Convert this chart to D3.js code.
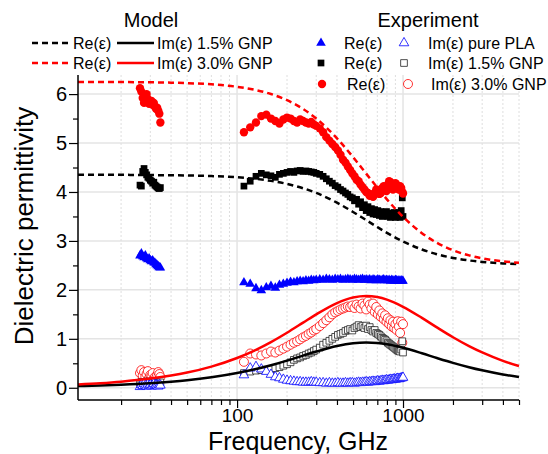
<!DOCTYPE html>
<html lang="en">
<head>
<meta charset="UTF-8">
<title>Dielectric permittivity</title>
<script src="https://cdn.jsdelivr.net/npm/d3@7"></script>
<style>
  body { margin: 0; background: #fff; }
  text { font-family: "Liberation Sans", Arial, sans-serif; fill: #000; }
</style>
</head>
<body>
<script>

// Model curves
const freqModel = [11, 15, 20, 30, 40, 50, 70, 100, 130, 160, 200, 250, 300, 400, 500, 600, 700, 800, 1000, 1300, 1600, 2000, 2500, 3000, 4000, 5000];
const reModel15 = [4.35, 4.35, 4.35, 4.345, 4.342, 4.337, 4.325, 4.30, 4.267, 4.227, 4.165, 4.076, 3.98, 3.781, 3.592, 3.425, 3.284, 3.166, 2.99, 2.825, 2.728, 2.653, 2.601, 2.571, 2.541, 2.526];
const imModel15 = [0.034, 0.046, 0.062, 0.092, 0.123, 0.153, 0.213, 0.30, 0.383, 0.461, 0.555, 0.657, 0.74, 0.854, 0.91, 0.925, 0.914, 0.888, 0.816, 0.704, 0.608, 0.509, 0.42, 0.356, 0.271, 0.219];
const reModel30 = [6.249, 6.248, 6.246, 6.241, 6.233, 6.224, 6.20, 6.149, 6.082, 6.001, 5.875, 5.695, 5.50, 5.096, 4.713, 4.375, 4.088, 3.85, 3.493, 3.159, 2.962, 2.81, 2.704, 2.644, 2.583, 2.553];
const imModel30 = [0.069, 0.094, 0.125, 0.187, 0.249, 0.31, 0.432, 0.608, 0.776, 0.934, 1.125, 1.331, 1.50, 1.731, 1.844, 1.875, 1.853, 1.80, 1.654, 1.427, 1.233, 1.032, 0.851, 0.721, 0.55, 0.444];

// Experiment, Ka band
const freqKa = [26, 26.5, 27, 27.5, 28, 28.5, 29, 29.5, 30, 30.5, 31, 31.5, 32, 32.5, 33, 33.5, 34, 34.5];
const reKaPLA = [2.70, 2.74, 2.68, 2.66, 2.70, 2.64, 2.62, 2.64, 2.60, 2.58, 2.60, 2.56, 2.55, 2.52, 2.50, 2.48, 2.46, 2.45];
const imKaPLA = [0.02, 0.06, 0.04, 0.08, 0.05, 0.03, 0.07, 0.04, 0.06, 0.03, 0.05, 0.08, 0.04, 0.06, 0.05, 0.03, 0.06, 0.05];
const reKa15 = [4.14, 4.12, 4.42, 4.48, 4.40, 4.35, 4.30, 4.28, 4.24, 4.22, 4.18, 4.20, 4.14, 4.12, 4.10, 4.08, 4.07, 4.09];
const imKa15 = [0.10, 0.12, 0.08, 0.11, 0.09, 0.13, 0.10, 0.08, 0.12, 0.11, 0.09, 0.10, 0.12, 0.08, 0.11, 0.10, 0.09, 0.11];
const reKa30 = [6.12, 6.05, 5.92, 5.82, 5.88, 6.00, 5.90, 5.80, 5.84, 5.86, 5.78, 5.82, 5.74, 5.70, 5.72, 5.66, 5.60, 5.42];
const imKa30 = [0.30, 0.36, 0.25, 0.32, 0.22, 0.28, 0.34, 0.20, 0.26, 0.24, 0.30, 0.18, 0.22, 0.20, 0.26, 0.32, 0.28, 0.22];

// Experiment, THz band
const freqTHz = [110, 120, 130, 140, 150, 160, 170, 180, 190, 200, 210, 220, 230, 240, 250, 260, 270, 280, 290, 300,
  315, 330, 345, 360, 375, 390, 405, 420, 435, 450, 465, 480, 495, 510, 525, 540, 555, 570, 585, 600,
  615, 630, 645, 660, 675, 690, 705, 720, 735, 750, 765, 780, 795, 810, 825, 840, 855, 870, 885, 900,
  915, 930, 945, 960, 975, 990, 1000];
const reTHz30 = [5.22, 5.32, 5.42, 5.55, 5.58, 5.50, 5.45, 5.40, 5.48, 5.52, 5.50, 5.45, 5.42, 5.48, 5.45, 5.42, 5.40, 5.43, 5.38, 5.35,
  5.30, 5.22, 5.12, 5.05, 4.98, 4.92, 4.85, 4.76, 4.66, 4.60, 4.52, 4.45, 4.38, 4.32, 4.25, 4.22, 4.15, 4.10, 4.05, 4.00,
  3.98, 3.92, 3.95, 3.90, 3.98, 4.05, 4.02, 3.96, 3.98, 4.08, 4.12, 4.05, 4.02, 4.15, 4.22, 4.20, 4.10, 4.05, 4.12, 4.18,
  4.15, 4.10, 4.05, 4.12, 4.08, 4.00, 3.97];
const reTHz15 = [4.12, 4.22, 4.32, 4.38, 4.35, 4.33, 4.30, 4.36, 4.38, 4.40, 4.42, 4.40, 4.43, 4.44, 4.42, 4.43, 4.42, 4.41, 4.40, 4.38,
  4.36, 4.32, 4.27, 4.22, 4.18, 4.13, 4.10, 4.05, 4.02, 3.98, 3.95, 3.90, 3.88, 3.82, 3.85, 3.75, 3.80, 3.68, 3.74, 3.62,
  3.70, 3.58, 3.66, 3.55, 3.64, 3.54, 3.62, 3.52, 3.60, 3.50, 3.58, 3.52, 3.60, 3.50, 3.56, 3.48, 3.57, 3.50, 3.58, 3.48,
  3.55, 3.50, 3.58, 3.48, 3.62, 3.88, 3.50];
const reTHzPLA = [2.15, 2.12, 2.03, 1.99, 2.05, 2.08, 2.04, 2.10, 2.12, 2.14, 2.16, 2.15, 2.17, 2.18, 2.17, 2.19, 2.18, 2.20, 2.19, 2.20,
  2.21, 2.20, 2.22, 2.21, 2.20, 2.22, 2.21, 2.22, 2.20, 2.21, 2.22, 2.21, 2.20, 2.22, 2.21, 2.20, 2.21, 2.22, 2.20, 2.21,
  2.20, 2.21, 2.19, 2.21, 2.20, 2.19, 2.21, 2.20, 2.19, 2.20, 2.21, 2.19, 2.20, 2.19, 2.20, 2.18, 2.20, 2.19, 2.18, 2.20,
  2.19, 2.18, 2.19, 2.18, 2.19, 2.18, 2.18];
const imTHzPLA = [0.26, 0.40, 0.43, 0.38, 0.33, 0.27, 0.22, 0.20, 0.17, 0.15, 0.14, 0.13, 0.12, 0.12, 0.11, 0.11, 0.11, 0.12, 0.11, 0.11,
  0.10, 0.10, 0.09, 0.10, 0.09, 0.09, 0.10, 0.09, 0.09, 0.10, 0.09, 0.10, 0.10, 0.09, 0.10, 0.11, 0.10, 0.11, 0.11, 0.12,
  0.11, 0.12, 0.12, 0.13, 0.12, 0.13, 0.14, 0.13, 0.14, 0.15, 0.14, 0.15, 0.16, 0.15, 0.16, 0.17, 0.16, 0.17, 0.18, 0.17,
  0.18, 0.19, 0.18, 0.19, 0.20, 0.20, 0.21];
const imTHz15 = [0.30, 0.33, 0.35, 0.36, 0.37, 0.38, 0.40, 0.42, 0.45, 0.48, 0.52, 0.57, 0.60, 0.62, 0.65, 0.67, 0.70, 0.72, 0.75, 0.78,
  0.82, 0.88, 0.92, 0.96, 1.00, 1.04, 1.08, 1.10, 1.12, 1.16, 1.18, 1.20, 1.17, 1.22, 1.25, 1.28, 1.24, 1.26, 1.22, 1.27,
  1.20, 1.24, 1.18, 1.15, 1.18, 1.12, 1.10, 1.08, 1.05, 1.02, 1.00, 0.98, 0.95, 0.92, 0.90, 0.88, 0.86, 0.84, 0.82, 0.80,
  0.78, 0.76, 0.75, 0.74, 0.78, 0.95, 0.72];
const imTHz30 = [0.53, 0.70, 0.68, 0.66, 0.70, 0.74, 0.72, 0.76, 0.80, 0.84, 0.88, 0.92, 0.95, 0.99, 1.03, 1.06, 1.10, 1.13, 1.17, 1.20,
  1.26, 1.32, 1.38, 1.44, 1.50, 1.54, 1.57, 1.60, 1.62, 1.64, 1.66, 1.65, 1.68, 1.63, 1.70, 1.66, 1.62, 1.72, 1.68, 1.60,
  1.76, 1.70, 1.62, 1.72, 1.55, 1.65, 1.50, 1.58, 1.45, 1.52, 1.40, 1.48, 1.35, 1.42, 1.30, 1.38, 1.25, 1.35, 1.22, 1.30,
  1.18, 1.36, 1.25, 1.12, 1.35, 0.92, 1.30];

// Ticks
const xMajor = [100, 1000];
const xMinor = [20, 30, 40, 50, 60, 70, 80, 90, 200, 300, 400, 500, 600, 700, 800, 900, 2000, 3000, 4000, 5000];
const yMajor = [0, 1, 2, 3, 4, 5, 6];
const yMinor = [0.5, 1.5, 2.5, 3.5, 4.5, 5.5];

const width = 548, height = 454;
const plotLeft = 78, plotRight = 519, plotTop = 75, plotBottom = 400;

const svg = d3.select("body").append("svg")
    .attr("width", width)
    .attr("height", height);

const x = d3.scaleLog().domain([11, 5000]).range([plotLeft, plotRight]);
const y = d3.scaleLinear().domain([-0.25, 6.39]).range([plotBottom, plotTop]);

// grid
svg.append("g").selectAll("line")
    .data(yMajor)
    .enter().append("line")
    .attr("x1", plotLeft).attr("x2", plotRight)
    .attr("y1", d => y(d)).attr("y2", d => y(d))
    .attr("stroke", "#e4e4e4").attr("stroke-width", 1.5);

svg.append("g").selectAll("line")
    .data(xMinor)
    .enter().append("line")
    .attr("x1", d => x(d)).attr("x2", d => x(d))
    .attr("y1", plotTop).attr("y2", plotBottom)
    .attr("stroke", "#dedede").attr("stroke-width", 1)
    .attr("stroke-dasharray", "2,2");

svg.append("g").selectAll("line")
    .data(xMajor)
    .enter().append("line")
    .attr("x1", d => x(d)).attr("x2", d => x(d))
    .attr("y1", plotTop).attr("y2", plotBottom)
    .attr("stroke", "#e4e4e4").attr("stroke-width", 1.5);

// experimental points
function drawPoints(freqs, vals, type, size, fill, stroke, sw) {
    const sym = d3.symbol().type(type).size(size);
    svg.append("g").selectAll("path")
        .data(freqs.map((f, i) => [f, vals[i]]))
        .enter().append("path")
        .attr("d", sym)
        .attr("transform", d => `translate(${x(d[0])},${y(d[1])})`)
        .attr("fill", fill)
        .attr("stroke", stroke)
        .attr("stroke-width", sw);
}

const openCircle = [d3.symbolCircle, 64, "#fff", "#ff0000", 0.8];
const openSquare = [d3.symbolSquare, 45, "#fff", "#222", 0.8];
const openTri = [d3.symbolTriangle, 40, "#fff", "#0000ff", 0.8];
const fillTri = [d3.symbolTriangle, 40, "#0000ff", "none", 0];
const fillSquare = [d3.symbolSquare, 45, "#000", "none", 0];
const fillCircle = [d3.symbolCircle, 55, "#ff0000", "none", 0];

drawPoints(freqKa, imKa30, ...openCircle);
drawPoints(freqTHz, imTHz30, ...openCircle);
drawPoints(freqKa, imKa15, ...openSquare);
drawPoints(freqTHz, imTHz15, ...openSquare);
drawPoints(freqKa, imKaPLA, ...openTri);
drawPoints(freqTHz, imTHzPLA, ...openTri);
drawPoints(freqKa, reKaPLA, ...fillTri);
drawPoints(freqTHz, reTHzPLA, ...fillTri);
drawPoints(freqKa, reKa15, ...fillSquare);
drawPoints(freqTHz, reTHz15, ...fillSquare);
drawPoints(freqKa, reKa30, ...fillCircle);
drawPoints(freqTHz, reTHz30, ...fillCircle);

// model lines
const line = d3.line()
    .x(d => x(d[0]))
    .y(d => y(d[1]))
    .curve(d3.curveMonotoneX);

function drawModel(vals, color, dashed) {
    svg.append("path")
        .datum(freqModel.map((f, i) => [f, vals[i]]))
        .attr("d", line)
        .attr("fill", "none")
        .attr("stroke", color)
        .attr("stroke-width", 2.5)
        .attr("stroke-dasharray", dashed ? "6,4" : null);
}

drawModel(reModel15, "#000", true);
drawModel(imModel15, "#000", false);
drawModel(reModel30, "#ff0000", true);
drawModel(imModel30, "#ff0000", false);

// axes
const yAxis = svg.append("g")
    .attr("transform", `translate(${plotLeft},0)`)
    .call(d3.axisLeft(y).tickValues(yMajor).tickSize(9).tickPadding(2).tickFormat(d3.format("d")));
svg.append("g")
    .attr("transform", `translate(${plotLeft},0)`)
    .call(d3.axisLeft(y).tickValues(yMinor).tickSize(5).tickFormat(""))
    .select(".domain").remove();

const xAxis = svg.append("g")
    .attr("transform", `translate(0,${plotBottom})`)
    .call(d3.axisBottom(x).tickValues(xMajor).tickSize(8).tickPadding(1).tickFormat(d3.format("d")));
svg.append("g")
    .attr("transform", `translate(0,${plotBottom})`)
    .call(d3.axisBottom(x).tickValues(xMinor).tickSize(5).tickFormat(""))
    .select(".domain").remove();

yAxis.select(".domain").attr("d", `M0,${plotTop}V${plotBottom}`);
xAxis.select(".domain").attr("d", `M${plotLeft},0H${plotRight}`);
svg.selectAll(".domain").attr("stroke", "#000").attr("stroke-width", 1.5);
svg.selectAll(".tick line").attr("stroke", "#000").attr("stroke-width", 1.2);
svg.selectAll(".tick text").style("font-size", "20px").style("font-family", "Liberation Sans, Arial, sans-serif");
xAxis.selectAll(".tick text").style("font-size", "19px");

// axis titles
svg.append("text")
    .attr("x", 298).attr("y", 449.5)
    .attr("text-anchor", "middle")
    .style("font-size", "25px")
    .text("Frequency, GHz");

svg.append("text")
    .attr("transform", "translate(33,226) rotate(-90)")
    .attr("text-anchor", "middle")
    .style("font-size", "26px")
    .text("Dielectric permittivity");

// legend: model
svg.append("text").attr("x", 151).attr("y", 27).attr("text-anchor", "middle")
    .style("font-size", "20px").text("Model");

const modelRows = [
    { yc: 43, color: "#000", label: "Im(\u03b5) 1.5% GNP" },
    { yc: 63, color: "#ff0000", label: "Im(\u03b5) 3.0% GNP" }
];
modelRows.forEach(r => {
    svg.append("line").attr("x1", 32).attr("x2", 70).attr("y1", r.yc).attr("y2", r.yc)
        .attr("stroke", r.color).attr("stroke-width", 2.5).attr("stroke-dasharray", "6,4");
    svg.append("text").attr("x", 73).attr("y", r.yc + 5.5).style("font-size", "16px").text("Re(\u03b5)");
    svg.append("line").attr("x1", 117).attr("x2", 154).attr("y1", r.yc).attr("y2", r.yc)
        .attr("stroke", r.color).attr("stroke-width", 2.5);
    svg.append("text").attr("x", 157).attr("y", r.yc + 5.5).style("font-size", "16px").text(r.label);
});

// legend: experiment
svg.append("text").attr("x", 428).attr("y", 27).attr("text-anchor", "middle")
    .style("font-size", "20px").text("Experiment");

const expRows = [
    { yc: 43, filled: fillTri, open: openTri, xs: [321, 344, 404, 428], label: "Im(\u03b5) pure PLA" },
    { yc: 63, filled: fillSquare, open: openSquare, xs: [321, 344, 404, 428], label: "Im(\u03b5) 1.5% GNP" },
    { yc: 84, filled: fillCircle, open: openCircle, xs: [322, 347, 408, 431], label: "Im(\u03b5) 3.0% GNP" }
];
expRows.forEach(r => {
    [[r.filled, r.xs[0]], [r.open, r.xs[2]]].forEach(([s, xp]) => {
        svg.append("path")
            .attr("d", d3.symbol().type(s[0]).size(s[1]))
            .attr("transform", `translate(${xp},${r.yc})`)
            .attr("fill", s[2]).attr("stroke", s[3]).attr("stroke-width", s[4]);
    });
    svg.append("text").attr("x", r.xs[1]).attr("y", r.yc + 5.5).style("font-size", "16px").text("Re(\u03b5)");
    svg.append("text").attr("x", r.xs[3]).attr("y", r.yc + 5.5).style("font-size", "16px").text(r.label);
});

</script>
</body>
</html>
